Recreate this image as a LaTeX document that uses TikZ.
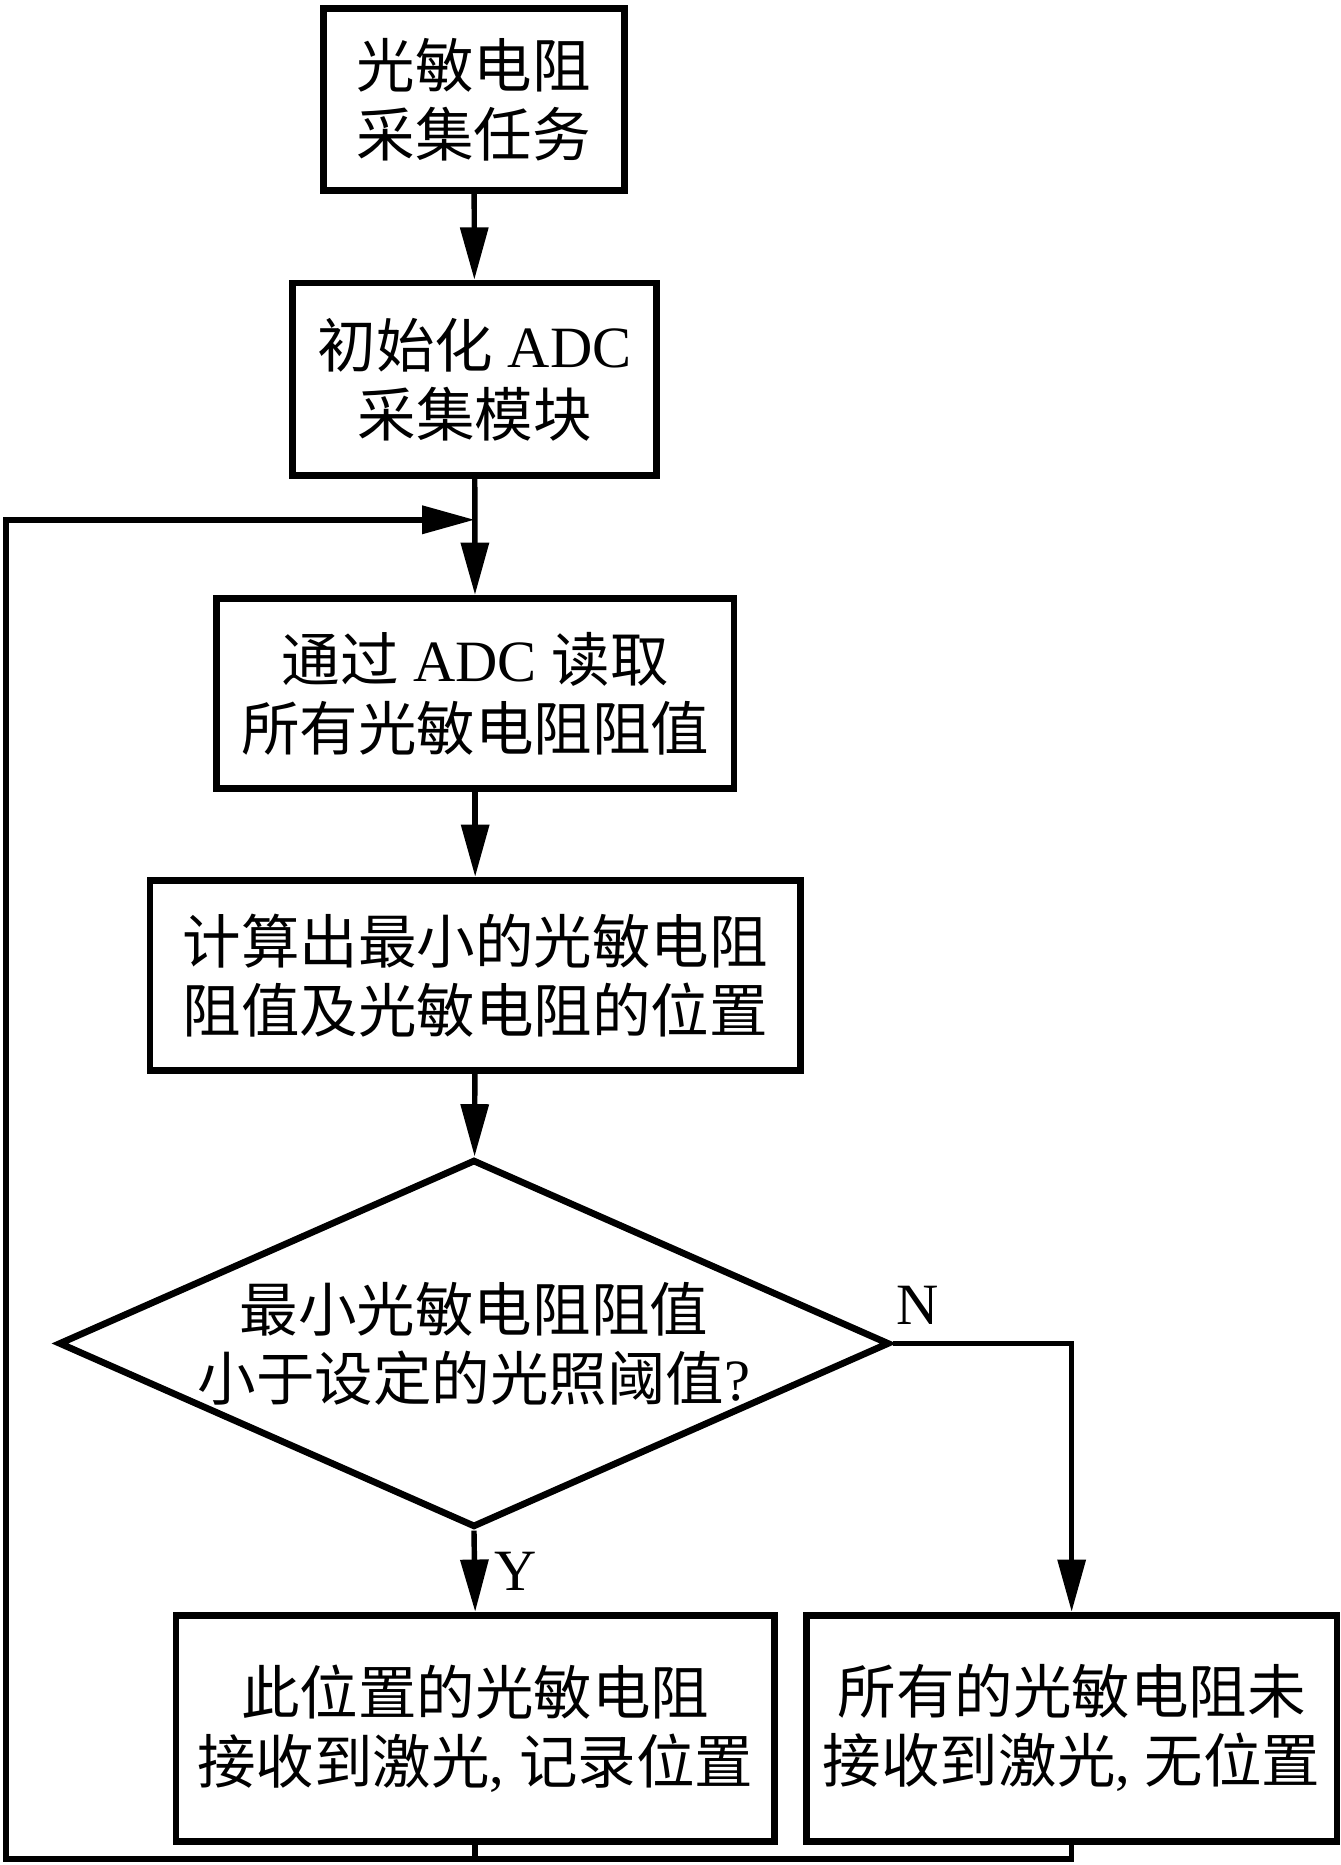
\documentclass[tikz,border=0pt]{standalone}
\usepackage{fontspec}
\setmainfont{Liberation Serif}
\newfontfamily\cjk{Noto Sans CJK SC}
\usetikzlibrary{shapes.geometric,arrows.meta}
\begin{document}
\begin{tikzpicture}[x=0.1mm,y=-0.1mm,
    >={Triangle[length=4.4mm,width=2.3mm]},
    font=\fontsize{14pt}{16.5pt}\selectfont]

        \useasboundingbox (0,0) rectangle (1127,1568);

        \begin{scope}[every node/.style={draw,line width=1.6pt,align=center,inner sep=0pt}]
          \node[minimum width=25.3mm,minimum height=15.3mm] (task)  at (398.5,83.5)  {{\cjk 光敏电阻}\\{\cjk 采集任务}};
          \node[minimum width=30.6mm,minimum height=16.2mm] (init)  at (399,319)     {{\cjk 初始化} ADC\\{\cjk 采集模块}};
          \node[minimum width=43.5mm,minimum height=16mm]   (read)  at (399.5,583)   {{\cjk 通过} ADC {\cjk 读取}\\{\cjk 所有光敏电阻阻值}};
          \node[minimum width=54.7mm,minimum height=16mm]   (calc)  at (399.5,820)   {{\cjk 计算出最小的光敏电阻}\\{\cjk 阻值及光敏电阻的位置}};
          \node[diamond,aspect=2.26,minimum width=69.3mm,minimum height=30.7mm]
                                                            (judge) at (398.5,1129.5) {{\cjk 最小光敏电阻阻值}\\{\cjk 小于设定的光照阈值}?};
          \node[minimum width=50.3mm,minimum height=19mm]   (rec)   at (399.5,1453)  {{\cjk 此位置的光敏电阻}\\{\cjk 接收到激光}, {\cjk 记录位置}};
          \node[minimum width=44.6mm,minimum height=19mm]   (none)  at (901,1453)    {{\cjk 所有的光敏电阻未}\\{\cjk 接收到激光}, {\cjk 无位置}};
        \end{scope}

        \coordinate (merge)  at (399,437);
        \coordinate (bottom) at (5,1563);

        \begin{scope}[every path/.style={line width=1.3pt}]
          \path (task)  edge[->] (init);
          \path (init)  edge[->] (read);
          \path (read)  edge[->] (calc);
          \path (calc)  edge[->] (judge);
          \path (judge.south) edge[->] node[right=0.3mm] {Y} (rec.north);
          \draw[->] (judge.east) -| node[pos=0.07,above=0.2mm] {N} (none.north);
          \draw (rec.south) -- (rec.south |- bottom);
          \draw[->] (none.south) |- (bottom) |- (merge);
        \end{scope}

      \end{tikzpicture}
\end{document}
